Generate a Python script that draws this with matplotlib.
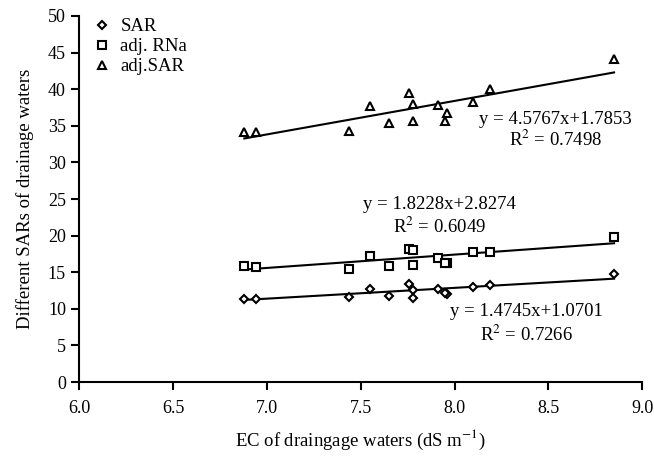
import matplotlib
matplotlib.use("Agg")
import matplotlib.pyplot as plt
import numpy as np

plt.rcParams['font.family'] = ['Liberation Serif', 'DejaVu Serif']
plt.rcParams['mathtext.fontset'] = 'stix'

ec = [6.88, 6.94, 7.44, 7.55, 7.65, 7.76, 7.78, 7.78, 7.91, 7.96, 7.95, 8.10, 8.19, 8.85]
sar = [11.4, 11.4, 11.6, 12.7, 11.8, 13.4, 12.6, 11.5, 12.7, 12.0, 12.1, 13.0, 13.2, 14.7]
adj_rna = [15.8, 15.7, 15.5, 17.2, 15.9, 18.2, 18.1, 16.0, 17.0, 16.2, 16.2, 17.7, 17.7, 19.8]
adj_sar = [34.1, 34.1, 34.3, 37.7, 35.4, 39.5, 38.0, 35.7, 37.8, 36.8, 35.6, 38.3, 40.0, 44.1]

fits = {
    'SAR': (1.4745, 1.0701, 0.7266),
    'adj. RNa': (1.8228, 2.8274, 0.6049),
    'adj.SAR': (4.5767, 1.7853, 0.7498),
}

fig = plt.figure(figsize=(6.54, 4.57), dpi=100)
ax = fig.add_axes([0.121, 0.164, 0.861, 0.801])

mk = dict(linestyle='none', markerfacecolor='white', markeredgecolor='black', markeredgewidth=1.5)
ax.plot(ec, sar, marker='D', markersize=4.5, label='SAR', **mk)
ax.plot(ec, adj_rna, marker='s', markersize=5.5, label='adj. RNa', **mk)
ax.plot(ec, adj_sar, marker='^', markersize=6, label='adj.SAR', **mk)

xl = np.array([min(ec), max(ec)])
for name, (m, b, r2) in fits.items():
    ax.plot(xl, m * xl + b, color='black', linewidth=1.5, zorder=1)

fs = 13.5
ax.text(8.537, 35.9, 'y = 4.5767x+1.7853', ha='center', va='center', fontsize=fs)
ax.text(8.537, 33.1, 'R$^2$ = 0.7498', ha='center', va='center', fontsize=fs)
ax.text(7.919, 24.2, 'y = 1.8228x+2.8274', ha='center', va='center', fontsize=fs)
ax.text(7.919, 21.2, 'R$^2$ = 0.6049', ha='center', va='center', fontsize=fs)
ax.text(8.383, 9.6, 'y = 1.4745x+1.0701', ha='center', va='center', fontsize=fs)
ax.text(8.383, 6.4, 'R$^2$ = 0.7266', ha='center', va='center', fontsize=fs)

ax.set_xlim(6.0, 9.0)
ax.set_ylim(0, 50)
ax.set_xticks(np.arange(6.0, 9.01, 0.5))
ax.set_xticklabels([f'{v:.1f}' for v in np.arange(6.0, 9.01, 0.5)])
ax.set_yticks(np.arange(0, 51, 5))
for s in ['top', 'right']:
    ax.spines[s].set_visible(False)
for s in ['left', 'bottom']:
    ax.spines[s].set_linewidth(1.5)
ax.tick_params(axis='both', direction='out', length=6, width=1.5, labelsize=13)
ax.tick_params(axis='x', pad=7)
ax.set_xlabel('EC of draingage waters (dS m$^{-1}$)', fontsize=13.5, labelpad=8)
ax.set_ylabel('Different SARs of drainage waters', fontsize=13.5, labelpad=10)

leg = ax.legend(loc='upper left', bbox_to_anchor=(0.0, 1.03), frameon=False, fontsize=13.5,
                handlelength=1.0, handletextpad=0.5, labelspacing=0.15, borderaxespad=0.3)

fig.savefig('out.png', dpi=100)
